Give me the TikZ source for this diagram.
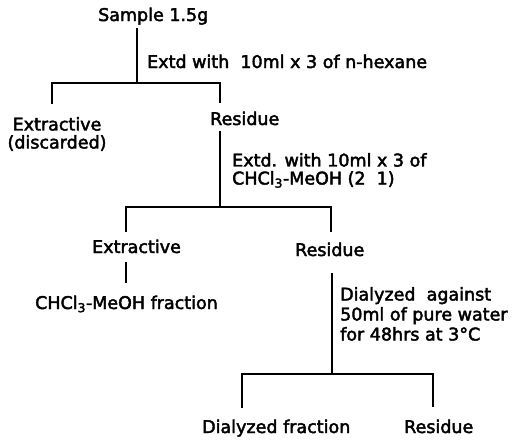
\documentclass[tikz,border=0pt]{standalone}
\usepackage{fontspec}
\setmainfont{DejaVu Sans}[FakeBold=2.5]
\usepackage{tikz}
\usetikzlibrary{positioning}
\tikzset{
  lbl/.style={inner sep=3pt,font=\fontsize{17.5}{18}\selectfont},
  cond/.style={lbl,align=left,anchor=north west,inner sep=0pt},
  line/.style={line width=1.3pt}
}

\begin{document}
\begin{tikzpicture}[x=1pt,y=-1pt]
\useasboundingbox (0,0) rectangle (532,442);
\node[lbl, anchor=base west] (sample) at (95,21) {Sample 1.5g};
\node[lbl, anchor=base west] (hex) at (144,68) {Extd with\ \ 10ml x 3 of n-hexane};
\node[lbl, anchor=north, align=center, inner sep=0pt] (ext1) at (57,117) {Extractive\\(discarded)};
\node[lbl, anchor=base west] (res1) at (207,125) {Residue};
\node[cond] (chcl) at (232,153) {Extd. with 10ml x 3 of\\CHCl\textsubscript{3}-MeOH (2\ \ 1)};
\node[lbl, anchor=base west] (ext2) at (89,253) {Extractive};
\node[lbl, anchor=base west] (res2) at (292,256) {Residue};
\node[lbl, anchor=base west] (frac1) at (32,309) {CHCl\textsubscript{3}-MeOH fraction};
\node[cond, font=\fontsize{17.5}{20}\selectfont] (dial) at (340,287) {Dialyzed\ \ against\\50ml of pure water\\for 48hrs at 3°C};
\node[lbl, anchor=base west] (frac2) at (199,433) {Dialyzed fraction};
\node[lbl, anchor=base west] (res3) at (401,433) {Residue};

\coordinate (j1) at (137,83);
\coordinate (l1) at (52,104);
\coordinate (r1) at (220,103);
\coordinate (j2) at (220,207);
\coordinate (l2) at (126,232);
\coordinate (r2) at (331,232);
\coordinate (e2) at (126,283);
\coordinate (j3) at (332,374);
\coordinate (l3) at (242,408);
\coordinate (r3) at (433,407);

\draw[line] (sample.south -| j1) -- (j1);
\draw[line] (l1) |- (j1) -| (r1);
\draw[line, shorten <=3pt] (res1.south -| r1) -- (j2);
\draw[line] (l2) |- (j2) -| (r2);
\draw[line, shorten <=6pt] (ext2.south -| l2) -- (e2);
\draw[line, shorten <=14pt] (res2.south -| j3) -- (j3);
\draw[line] (l3) |- (j3) -| (r3);
\end{tikzpicture}
\end{document}
